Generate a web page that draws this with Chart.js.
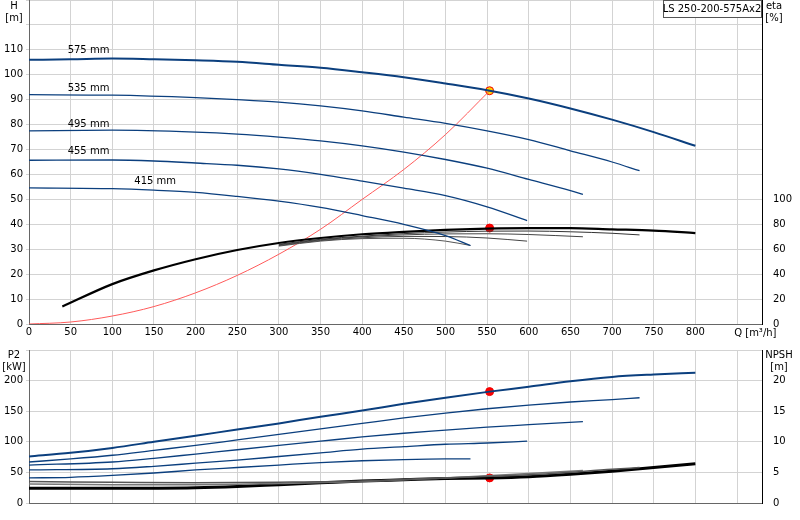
<!DOCTYPE html>
<html><head><meta charset="utf-8">
<script src="https://cdn.jsdelivr.net/npm/chart.js@4.4.1/dist/chart.umd.min.js"></script>
<style>body{margin:0;background:#fff;width:800px;height:520px;position:relative;overflow:hidden}
#c1{position:absolute;left:0;top:-9px}#c2{position:absolute;left:0;top:335px}</style></head>
<body><canvas id="c1" width="800" height="349"></canvas><canvas id="c2" width="800" height="185"></canvas>
<script>
// ---- data ----
const diameters=['575 mm','535 mm','495 mm','455 mm','415 mm'];
const qH575=[0,50,100,150,200,250,300,350,400,450,500,550,600,650,700,750,800];
const h575=[106,106.2,106.5,106.2,105.8,105.2,104,102.8,101,99,96.5,93.8,90.5,86.5,82,77,71.5];
const qH535=[0,100,200,250,300,350,400,450,500,550,600,650,700,733];
const h535=[92,91.8,90.8,90,89,87.5,85.5,83,80.5,77.5,74,69.5,65,61.5];
const qH495=[0,100,200,250,300,350,400,450,500,550,600,650,665];
const h495=[77.5,77.8,77,76.2,75,73.5,71.5,69,66,62.5,58,53.5,52];
const qH455=[0,100,150,200,250,300,350,400,450,500,550,598];
const h455=[65.7,65.8,65.4,64.6,63.7,62.2,60,57.3,54.5,51.5,47,41.5];
const qH415=[0,100,150,200,250,300,350,400,450,500,530];
const h415=[54.6,54.3,53.7,52.8,51.2,49.3,46.8,43.5,40,35.5,31.5];
const qSys=[0,50,100,150,200,250,300,350,400,450,500,553];
const hSys=[0,0.8,3.2,7,12.5,19.5,28,38,50,62,76,93.6];
const qEta575=[40,100,150,200,250,300,350,400,450,500,550,600,650,700,750,800];
const eta575=[14,32,43,52,59.4,65,69,72,74,75.6,76.6,77,77,76,75,73];
const qEta535=[300,350,400,450,500,550,600,650,700,733];
const eta535=[64,68,70.5,72.5,73.8,74.5,74.6,74,72.8,71.5];
const qEta495=[300,350,400,450,500,550,600,665];
const eta495=[63.5,67.5,70,71.5,72.3,72.4,71.8,70];
const qEta455=[300,350,400,450,500,550,598];
const eta455=[63,67,69.2,70.3,70.2,69,66.5];
const qEta415=[300,350,400,450,500,530];
const eta415=[62.5,66.5,68.5,68.8,66.5,63];
const qP575=[0,50,100,150,200,250,300,350,400,450,500,553,600,650,700,750,800];
const p575=[76,82,90,100,110,120,130,141,151,162,172,182,190,199,206,210,213];
const qP535=[0,50,100,150,200,250,300,350,400,450,500,550,600,650,700,733];
const p535=[67,72,78,86,94,103,112,121,130,139,147,154,160,165,169,172];
const qP495=[0,100,150,200,250,300,350,400,450,500,550,600,665];
const p495=[62,67,73,80,87,94,101,108,114,119,124,128,133];
const qP455=[0,100,150,200,250,300,350,400,450,500,550,598];
const p455=[54,56,60,65,70,76,82,88,92,96,98,101];
const qP415=[0,50,100,150,200,250,300,350,400,450,500,530];
const p415=[41,42,45,49,54,58,62,66,69,71,72,72];
const qN=[0,100,200,250,300,350,400,450,500,553,600,650,700,750,800];
const npsh=[2.4,2.4,2.5,2.7,3.0,3.3,3.6,3.8,4.0,4.1,4.3,4.7,5.2,5.8,6.4];
const qN2=[0,100,200,300,400,500,600,700,733];
const npsh2=[3.5,3.4,3.3,3.4,3.6,4.1,4.6,5.5,5.8];
const qN3=[0,100,200,300,400,500,600,665];
const npsh3=[3.1,3.0,3.0,3.2,3.5,4.1,4.8,5.3];
const dutyQ=[553], dutyH=[93.6], dutyEta=[77], dutyP=[182], dutyN=[4.1];
const xTicks=[0,50,100,150,200,250,300,350,400,450,500,550,600,650,700,750,800,850];

const pts=(q,v)=>q.map((x,i)=>({x:x,y:v[i]}));
const BLUE='#0b3f7e', GRID='#d3d3d3', FONT={family:'DejaVu Sans',size:10};
Chart.defaults.font=FONT; Chart.defaults.color='#000';
const line=(d,col,w,axis)=>({data:d,showLine:true,borderColor:col,borderWidth:w,pointRadius:0,cubicInterpolationMode:'monotone',fill:false,yAxisID:axis});
const dot=(d,col,axis)=>({data:d,showLine:false,pointRadius:4,pointBackgroundColor:col,pointBorderColor:'#e00',yAxisID:axis});
const xScale=(labels)=>({type:'linear',min:0,max:880,afterBuildTicks:s=>{s.ticks=xTicks.map(v=>({value:v}));},
  ticks:{display:labels,maxRotation:0,padding:2,callback:v=>v===850?'':v},grid:{color:GRID,drawTicks:false},border:{color:'#666'},
  afterFit:s=>{s.height=labels?16:0;}});
const txt=(ctx,t,x,y,al)=>{ctx.textAlign=al||'left';ctx.fillText(t,x,y);};

const decor1={id:'d1',afterDraw(ch){const c=ch.ctx,x=ch.scales.x,y=ch.scales.y,o=9;c.save();c.font='10px DejaVu Sans';c.fillStyle='#000';c.textBaseline='middle';
 txt(c,'H',14,6+o,'center');txt(c,'[m]',14,18+o,'center');txt(c,'eta',774,6+o,'center');txt(c,'[%]',774,18+o,'center');
 const lab=[[50,110],[50,95],[50,80.5],[50,69.5],[130,57.5]];
 diameters.forEach((d,i)=>txt(c,d,x.getPixelForValue(lab[i][0])-3,y.getPixelForValue(lab[i][1])+1));
 txt(c,'Q [m³/h]',x.getPixelForValue(872),333+o,'center');
 c.fillStyle='#fff';c.fillRect(663,o,99,18);c.strokeStyle='#555';c.lineWidth=1;c.strokeRect(663.5,o+0.5,98,17);
 c.fillStyle='#000';txt(c,'LS 250-200-575Ax2',712,9+o,'center');c.restore();}};
const decor2={id:'d2',afterDraw(ch){const c=ch.ctx;c.save();c.font='10px DejaVu Sans';c.fillStyle='#000';c.textBaseline='middle';
 txt(c,'P2',14,20,'center');txt(c,'[kW]',14,32,'center');txt(c,'NPSH',779,20,'center');txt(c,'[m]',779,32,'center');c.restore();}};

new Chart(document.getElementById('c1'),{type:'scatter',plugins:[decor1],
 data:{datasets:[
  line(pts(qH575,h575),BLUE,2,'y'),line(pts(qH535,h535),BLUE,1.3,'y'),line(pts(qH495,h495),BLUE,1.3,'y'),
  line(pts(qH455,h455),BLUE,1.3,'y'),line(pts(qH415,h415),BLUE,1.3,'y'),
  line(pts(qEta535,eta535),'#333',1,'y2'),line(pts(qEta495,eta495),'#444',1,'y2'),
  line(pts(qEta455,eta455),'#444',1,'y2'),line(pts(qEta415,eta415),'#555',1,'y2'),
  line(pts(qEta575,eta575),'#000',2.2,'y2'),
  line(pts(qSys,hSys),'#ff5a5a',1,'y'),
  dot(pts(dutyQ,dutyH),'#ffd000','y'),dot(pts(dutyQ,dutyEta),'#ff0000','y2')]},
 options:{responsive:false,animation:false,layout:{padding:0},plugins:{legend:{display:false},tooltip:{enabled:false}},
  scales:{x:xScale(true),
   y:{position:'left',min:0,max:130,ticks:{stepSize:10,padding:3,callback:v=>v<=110?v:''},grid:{color:GRID,drawTicks:true,tickLength:3},border:{color:'#666'},afterFit:s=>{s.width=29;}},
   y2:{position:'right',min:0,max:260,ticks:{stepSize:20,padding:3,callback:v=>v<=100?v:''},grid:{display:false,drawTicks:true},border:{color:'#000'},afterFit:s=>{s.width=38;}}}}});

new Chart(document.getElementById('c2'),{type:'scatter',plugins:[decor2],
 data:{datasets:[
  line(pts(qP575,p575),BLUE,2,'y'),line(pts(qP535,p535),BLUE,1.3,'y'),line(pts(qP495,p495),BLUE,1.3,'y'),
  line(pts(qP455,p455),BLUE,1.3,'y'),line(pts(qP415,p415),BLUE,1.3,'y'),
  line(pts(qN2,npsh2),'#555',1.5,'y2'),line(pts(qN3,npsh3),'#777',1.5,'y2'),
  line(pts(qN,npsh),'#000',3,'y2'),
  dot(pts(dutyQ,dutyP),'#ff0000','y'),dot(pts(dutyQ,dutyN),'#ff0000','y2')]},
 options:{responsive:false,animation:false,layout:{padding:{top:15,bottom:17}},plugins:{legend:{display:false},tooltip:{enabled:false}},
  scales:{x:xScale(false),
   y:{position:'left',min:0,max:250,ticks:{stepSize:50,padding:3,callback:v=>v<=200?v:''},grid:{color:GRID,tickLength:3},border:{color:'#666'},afterFit:s=>{s.width=29;}},
   y2:{position:'right',min:0,max:25,ticks:{stepSize:5,padding:3,callback:v=>v<=20?v:''},grid:{display:false},border:{color:'#000'},afterFit:s=>{s.width=38;}}}}});
</script></body></html>
